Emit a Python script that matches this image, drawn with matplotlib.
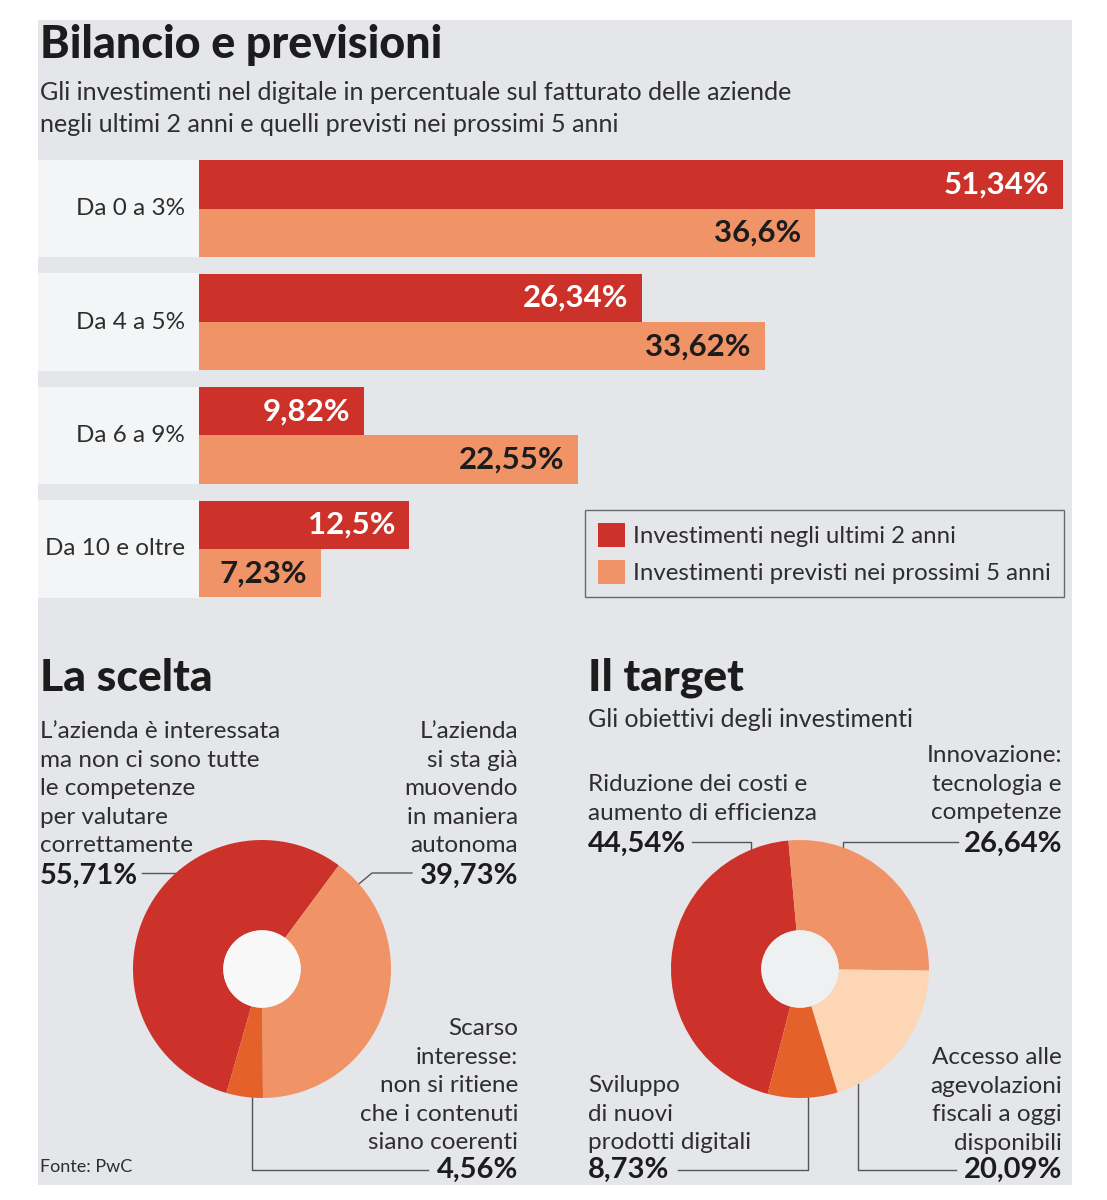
import matplotlib.pyplot as plt
import matplotlib.transforms as mtransforms
from matplotlib.patches import Rectangle, Circle
import numpy as np

### Data
categories = ["Da 0 a 3%", "Da 4 a 5%", "Da 6 a 9%", "Da 10 e oltre"]
last_2_years = [51.34, 26.34, 9.82, 12.5]
next_5_years = [36.6, 33.62, 22.55, 7.23]
last_labels = ["51,34%", "26,34%", "9,82%", "12,5%"]
next_labels = ["36,6%", "33,62%", "22,55%", "7,23%"]
series_names = ["Investimenti negli ultimi 2 anni", "Investimenti previsti nei prossimi 5 anni"]

scelta_values = [55.71, 39.73, 4.56]
target_values = [44.54, 26.64, 20.09, 8.73]

### Style
W, H = 1107, 1200
BG = "#e4e6e9"
BAND = "#f4f5f6"
DARK = "#cc3229"
LIGHT = "#f09467"
ORANGE = "#e5612a"
PEACH = "#fcd6b5"
TXT = "#2e2e2e"
INK = "#1c1c1c"
LINE = "#555555"
plt.rcParams['font.family'] = ['Lato', 'DejaVu Sans']

fig = plt.figure(figsize=(W / 100, H / 100), dpi=100)
fig.patch.set_facecolor("white")


def px_axes(x0, y0, w, h):
    # axes from a pixel box (top-left origin)
    return fig.add_axes([x0 / W, 1 - (y0 + h) / H, w / W, h / H])


# Background canvas in pixel coordinates
bg = fig.add_axes([0, 0, 1, 1])
bg.set_xlim(0, W)
bg.set_ylim(H, 0)
bg.axis("off")
bg.add_patch(Rectangle((38, 20), 1072 - 38, 1185 - 20, color=BG, lw=0))


def block(x, y0, lines, ha="left", step=28.6, **kw):
    for k, line in enumerate(lines):
        bg.text(x, y0 + k * step, line, ha=ha, va="baseline", **kw)


BODY = dict(fontsize=17.5, color=TXT)
PCT = dict(fontsize=21, fontweight="bold", color=INK, va="baseline")
HEAD = dict(fontsize=32, fontweight="black", color=INK, va="baseline")

# Titles
bg.text(40, 58, "Bilancio e previsioni", **dict(HEAD, fontsize=32.3))
block(40, 100, ["Gli investimenti nel digitale in percentuale sul fatturato delle aziende",
                "negli ultimi 2 anni e quelli previsti nei prossimi 5 anni"],
      step=32, fontsize=18.1, color=TXT)

### Bar chart
ax = px_axes(199, 160, 1063 - 199, 437.5)
ax.set_facecolor("none")
rows = np.arange(len(categories))
bh = 0.427
b1 = ax.barh(rows - bh / 2, last_2_years, height=bh, color=DARK, lw=0)
b2 = ax.barh(rows + bh / 2, next_5_years, height=bh, color=LIGHT, lw=0)
ax.set_xlim(0, max(last_2_years))
ax.set_ylim(rows[-1] + 0.4275, -0.4275)
ax.axis("off")

# label bands and category names
blend = mtransforms.blended_transform_factory(fig.transFigure, ax.transData)
for i, cat in enumerate(categories):
    ax.add_patch(Rectangle((38 / W, i - 0.4275), (199 - 38) / W, 0.855,
                           transform=blend, color=BAND, lw=0, clip_on=False))
    ax.text(185 / W, i, cat, transform=blend, ha="right", va="center",
            fontsize=17.5, color=TXT)

for i in rows:
    ax.annotate(last_labels[i], (last_2_years[i], i - bh / 2), xytext=(-14, 0),
                textcoords="offset pixels", ha="right", va="center",
                fontsize=22.5, fontweight="bold", color="white")
    ax.annotate(next_labels[i], (next_5_years[i], i + bh / 2), xytext=(-14, 0),
                textcoords="offset pixels", ha="right", va="center",
                fontsize=22.5, fontweight="bold", color=INK)

leg = ax.legend([b1, b2], series_names, loc="upper left",
                bbox_to_anchor=(585 / W, 1 - 510 / H), bbox_transform=fig.transFigure,
                fontsize=17.3, frameon=True, fancybox=False, edgecolor="#4a4a4a",
                facecolor="none", handlelength=1.13, handleheight=1.13,
                handletextpad=0.3, borderpad=0.55, labelspacing=0.55, borderaxespad=0)
leg.get_frame().set_linewidth(1.0)
for t in leg.get_texts():
    t.set_color(TXT)

### La scelta
bg.text(40, 691, "La scelta", **HEAD)
block(40, 738, ["L\u2019azienda è interessata", "ma non ci sono tutte", "le competenze",
                "per valutare", "correttamente"], **BODY)
bg.text(40, 884, "55,71%", **PCT)
block(518, 738, ["L\u2019azienda", "si sta già", "muovendo", "in maniera", "autonoma"],
      ha="right", **BODY)
bg.text(518, 884, "39,73%", ha="right", **PCT)
block(518, 1035, ["Scarso", "interesse:", "non si ritiene", "che i contenuti", "siano coerenti"],
      ha="right", **BODY)
bg.text(518, 1178, "4,56%", ha="right", **PCT)
bg.text(40, 1172, "Fonte: PwC", fontsize=13, color=TXT, va="baseline")

bg.plot([142, 205], [873, 873], color=LINE, lw=1)
bg.plot([412, 372, 348], [873, 873, 893], color=LINE, lw=1)
bg.plot([252, 252, 428], [1085, 1170, 1170], color=LINE, lw=1)

pa = px_axes(262 - 129, 969 - 129, 258, 258)
pa.pie(scelta_values, colors=[DARK, LIGHT, ORANGE], startangle=-106, counterclock=False,
       wedgeprops=dict(width=0.7, linewidth=0))
pa.add_patch(Circle((0, 0), 0.3, color="#f8f8f8", lw=0))
pa.set_xlim(-1, 1)
pa.set_ylim(-1, 1)

### Il target
bg.text(588, 691, "Il target", **HEAD)
bg.text(588, 727, "Gli obiettivi degli investimenti", va="baseline", **dict(BODY, fontsize=18))
block(588, 791, ["Riduzione dei costi e", "aumento di efficienza"], **BODY)
bg.text(588, 852, "44,54%", **PCT)
block(1062, 762, ["Innovazione:", "tecnologia e", "competenze"], ha="right", **BODY)
bg.text(1062, 852, "26,64%", ha="right", **PCT)
block(1062, 1064, ["Accesso alle", "agevolazioni", "fiscali a oggi", "disponibili"], ha="right",
      **BODY)
bg.text(1062, 1178, "20,09%", ha="right", **PCT)
block(588, 1092, ["Sviluppo", "di nuovi", "prodotti digitali"], **BODY)
bg.text(588, 1178, "8,73%", **PCT)

bg.plot([692, 751, 751], [842, 842, 862], color=LINE, lw=1)
bg.plot([958, 843, 843], [842, 842, 862], color=LINE, lw=1)
bg.plot([678, 808, 808], [1170, 1170, 1085], color=LINE, lw=1)
bg.plot([956, 858, 858], [1170, 1170, 1080], color=LINE, lw=1)

pb = px_axes(800 - 129, 969 - 129, 258, 258)
pb.pie(target_values, colors=[DARK, LIGHT, PEACH, ORANGE], startangle=-104.5, counterclock=False,
       wedgeprops=dict(width=0.7, linewidth=0))
pb.add_patch(Circle((0, 0), 0.3, color="#eef0f2", lw=0))
pb.set_xlim(-1, 1)
pb.set_ylim(-1, 1)

fig.savefig("out.png", dpi=100, facecolor="white")
